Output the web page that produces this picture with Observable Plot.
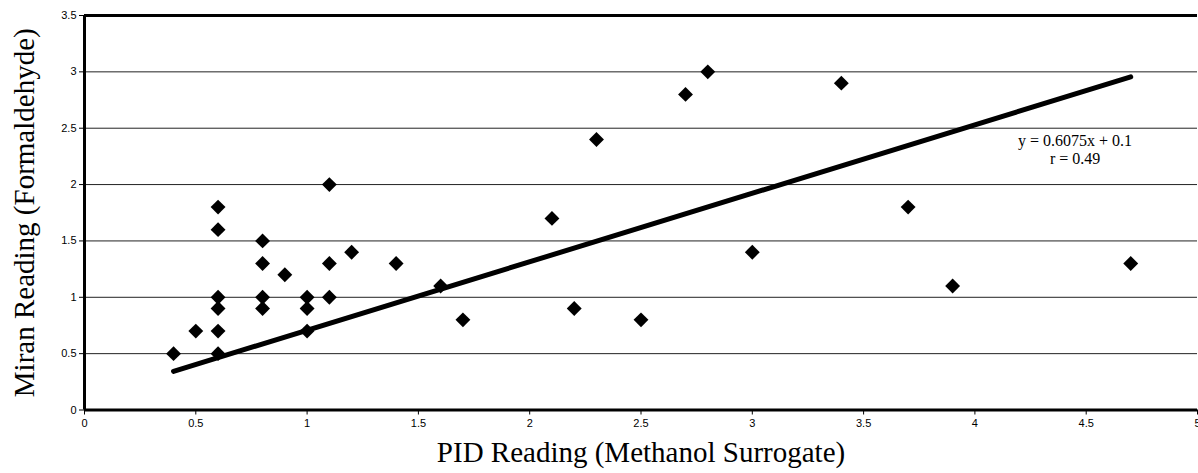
<!DOCTYPE html>
<html><head><meta charset="utf-8">
<script src="https://cdn.jsdelivr.net/npm/d3@7"></script>
<script src="https://cdn.jsdelivr.net/npm/@observablehq/plot@0.6"></script>
<style>body{margin:0;background:#fff} svg{display:block}</style>
</head><body><div id="chart"></div>
<script>
// PID reading (x) and Miran reading (y) for each sample
const pidReading   = [0.4, 0.5, 0.6, 0.6, 0.6, 0.6, 0.6, 0.6, 0.8, 0.8, 0.8, 0.8, 0.9, 1.0, 1.0, 1.0, 1.1, 1.1, 1.1, 1.2, 1.4, 1.6, 1.7, 2.1, 2.2, 2.3, 2.5, 2.7, 2.8, 3.0, 3.4, 3.7, 3.9, 4.7];
const miranReading = [0.5, 0.7, 0.5, 0.7, 0.9, 1.0, 1.6, 1.8, 0.9, 1.0, 1.3, 1.5, 1.2, 0.7, 0.9, 1.0, 1.0, 1.3, 2.0, 1.4, 1.3, 1.1, 0.8, 1.7, 0.9, 2.4, 0.8, 2.8, 3.0, 1.4, 2.9, 1.8, 1.1, 1.3];
// fitted regression
const slope = 0.6075;
const intercept = 0.1;
const rValue = 0.49;
// ticks and text
const xTicks = [0, 0.5, 1, 1.5, 2, 2.5, 3, 3.5, 4, 4.5, 5];
const yTicks = [0, 0.5, 1, 1.5, 2, 2.5, 3, 3.5];
const xTitle = "PID Reading (Methanol Surrogate)";
const yTitle = "Miran Reading (Formaldehyde)";
const equationLines = ["y = 0.6075x + 0.1", "r = 0.49"];

const points = pidReading.map((x, i) => ({x, y: miranReading[i]}));
const fit = d3.extent(pidReading).map(x => ({x, y: slope * x + intercept}));
const sans = "'Liberation Sans', Arial, sans-serif";
const serif = "'Liberation Serif', 'Times New Roman', serif";

const chart = Plot.plot({
  width: 1198,
  height: 473,
  marginLeft: 84,
  marginRight: 1,
  marginTop: 15,
  marginBottom: 63.5,
  x: {domain: [0, 5]},
  y: {domain: [0, 3.5]},
  style: {background: "white", color: "black"},
  marks: [
    Plot.gridY(yTicks.filter(t => t > 0 && t < 3.5), {stroke: "#222", strokeOpacity: 1, strokeWidth: 1}),
    Plot.ruleY([yTicks[yTicks.length - 1]], {stroke: "black", strokeWidth: 3}),
    Plot.axisY(yTicks, {tickSize: 5, tickPadding: 3, fontSize: 11, fontFamily: sans, tickFormat: d => String(d), label: null}),
    Plot.axisX(xTicks, {tickSize: 5, tickPadding: 4, fontSize: 11, fontFamily: sans, tickFormat: d => String(d), label: null}),
    Plot.ruleY([0], {stroke: "black", strokeWidth: 3}),
    Plot.ruleX([0], {stroke: "black", strokeWidth: 3}),
    Plot.line(fit, {x: "x", y: "y", stroke: "black", strokeWidth: 5}),
    Plot.dot(points, {x: "x", y: "y", symbol: "diamond2", r: 6.7, fill: "black", stroke: "none"}),
    Plot.text([equationLines.join("\n")], {x: 4.45, y: 2.31, fontFamily: serif, fontSize: 16, lineHeight: 1.1, fill: "black"}),
    Plot.text([yTitle], {frameAnchor: "left", rotate: -90, dx: -60, textAnchor: "middle", lineAnchor: "middle", fontSize: 29, fontFamily: serif, fill: "black"}),
    Plot.text([xTitle], {frameAnchor: "bottom", dy: 43, textAnchor: "middle", lineAnchor: "middle", fontSize: 29, fontFamily: serif, fill: "black"})
  ]
});
document.getElementById("chart").appendChild(chart);
</script>
</body></html>
